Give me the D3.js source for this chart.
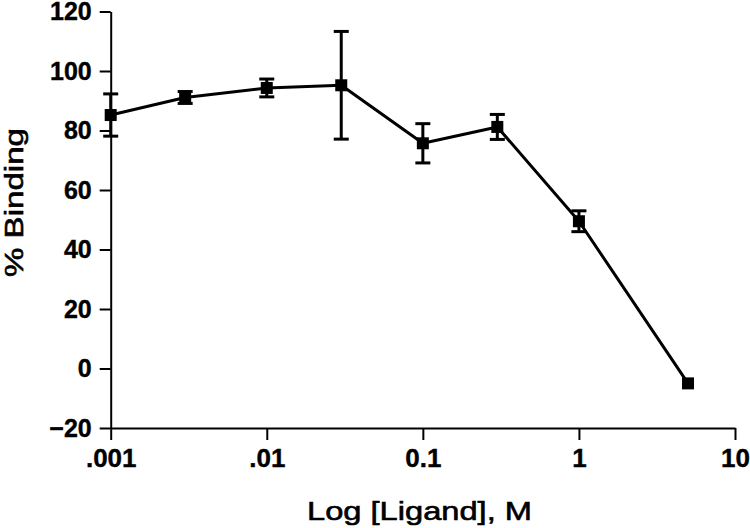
<!DOCTYPE html>
<html>
<head>
<meta charset="utf-8">
<script src="https://cdn.jsdelivr.net/npm/d3@7"></script>
<style>
  html, body { margin: 0; padding: 0; background: #fff; }
  svg { display: block; }
  text { font-family: "Liberation Sans", Arial, sans-serif; fill: #000; }
</style>
</head>
<body>
<svg id="chart" width="750" height="528"></svg>
<script>
// ---- data ----
const concentrations = [0.001, 0.003, 0.01, 0.03, 0.1, 0.3, 1, 5];
const binding = [85.2, 91.1, 94.3, 95.2, 75.7, 81.2, 49.5, -5];
const errors = [7.1, 2.0, 3.0, 18.1, 6.6, 4.2, 3.5, 0];
const xTickValues = [0.001, 0.01, 0.1, 1, 10];
const xTickLabels = [".001", ".01", "0.1", "1", "10"];
const yTickValues = [-20, 0, 20, 40, 60, 80, 100, 120];
const xTitle = "Log [Ligand], M";
const yTitle = "% Binding";

const svg = d3.select("#chart");
svg.append("rect").attr("width", 750).attr("height", 528).attr("fill", "#fff");

const x = d3.scaleLog().domain([0.001, 10]).range([110.7, 735]);
const y = d3.scaleLinear().domain([-20, 120]).range([428, 11.5]);

// axes
const xAxis = d3.axisBottom(x)
  .tickValues(xTickValues)
  .tickFormat((d, i) => xTickLabels[i])
  .tickSizeInner(12).tickSizeOuter(0).tickPadding(9);
const yAxis = d3.axisLeft(y)
  .tickValues(yTickValues)
  .tickFormat(d3.format("d"))
  .tickSizeInner(11).tickSizeOuter(0).tickPadding(8);

const gx = svg.append("g").attr("transform", `translate(0,${y(-20)})`).call(xAxis);
const gy = svg.append("g").attr("transform", `translate(${x(0.001)},0)`).call(yAxis);

[gx, gy].forEach(g => {
  g.select(".domain").attr("stroke", "#000").attr("stroke-width", 2);
  g.selectAll(".tick line").attr("stroke", "#000").attr("stroke-width", 2);
  g.selectAll(".tick text")
    .style("font-family", '"Liberation Sans", Arial, sans-serif')
    .attr("font-weight", "bold")
    .attr("fill", "#000")
    .attr("stroke", "#000").attr("stroke-width", 0.4);
});
gx.selectAll(".tick text").attr("font-size", 26);
gy.selectAll(".tick text").attr("font-size", 25);

// titles
svg.append("text")
  .attr("x", 419.5).attr("y", 520)
  .attr("text-anchor", "middle")
  .attr("font-size", 26)
  .attr("stroke", "#000").attr("stroke-width", 0.6)
  .attr("textLength", 225).attr("lengthAdjust", "spacingAndGlyphs")
  .text(xTitle);

svg.append("text")
  .attr("transform", `translate(23,202.5) rotate(-90)`)
  .attr("text-anchor", "middle")
  .attr("font-size", 26)
  .attr("stroke", "#000").attr("stroke-width", 0.6)
  .attr("textLength", 149).attr("lengthAdjust", "spacingAndGlyphs")
  .text(yTitle);

// data
const data = concentrations.map((c, i) => ({ c, v: binding[i], e: errors[i] }));

// line
svg.append("path")
  .datum(data)
  .attr("fill", "none")
  .attr("stroke", "#000")
  .attr("stroke-width", 3)
  .attr("stroke-linejoin", "round")
  .attr("d", d3.line().x(d => x(d.c)).y(d => y(d.v)));

// error bars
const eb = svg.append("g").attr("stroke", "#000").attr("stroke-width", 3);
data.filter(d => d.e > 0).forEach(d => {
  const cx = x(d.c);
  eb.append("line").attr("x1", cx).attr("x2", cx).attr("y1", y(d.v + d.e)).attr("y2", y(d.v - d.e));
  eb.append("line").attr("x1", cx - 7.5).attr("x2", cx + 7.5).attr("y1", y(d.v + d.e)).attr("y2", y(d.v + d.e));
  eb.append("line").attr("x1", cx - 7.5).attr("x2", cx + 7.5).attr("y1", y(d.v - d.e)).attr("y2", y(d.v - d.e));
});

// markers
const ms = 12;
svg.append("g").selectAll("rect")
  .data(data).join("rect")
  .attr("x", d => x(d.c) - ms / 2)
  .attr("y", d => y(d.v) - ms / 2)
  .attr("width", ms).attr("height", ms)
  .attr("fill", "#000");
</script>
</body>
</html>
